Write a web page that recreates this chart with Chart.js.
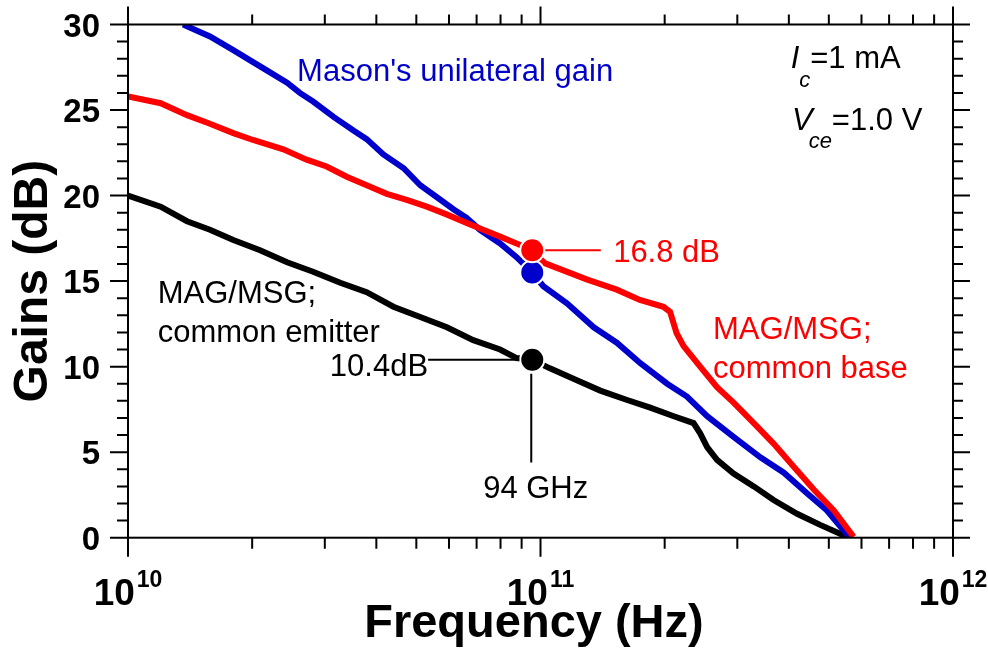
<!DOCTYPE html>
<html>
<head>
<meta charset="utf-8">
<title>Gains vs frequency</title>
<script src="https://cdn.jsdelivr.net/npm/chart.js@4"></script>
<style>
  html, body { margin: 0; padding: 0; background: #fff; }
  canvas { display: block; }
</style>
</head>
<body>
<canvas id="gainChart" width="988" height="655"></canvas>
<script>
// values: frequency in GHz, gain in dB
const masonFreq = [13.6, 15.8, 18.0, 20.1, 22.1, 24.3, 26.1, 28.1, 31.5, 35.2, 37.9, 41.6, 46.6, 51.1, 56.1, 61.5,
  66.2, 71.3, 79.8, 87.5, 95.5, 101.6, 115.9, 134.6, 153.1, 174.6, 202.8, 226.5, 253.5, 293.8, 341.2, 389.0,
  442.6, 494.3, 533.3, 563.6];
const masonGain = [30.0, 29.3, 28.5, 27.8, 27.2, 26.6, 26.0, 25.5, 24.6, 23.8, 23.3, 22.4, 21.6, 20.6, 19.9, 19.2,
  18.7, 18.0, 17.2, 16.4, 15.5, 14.7, 13.7, 12.3, 11.4, 10.2, 9.0, 8.25, 7.1, 5.9, 4.7, 3.8,
  2.6, 1.6, 0.65, 0];

const cbFreq = [10.0, 12.0, 13.9, 15.8, 18.0, 20.1, 23.8, 27.1, 30.3, 33.9, 37.9, 42.4, 47.4, 53.0, 59.2, 66.2,
  72.6, 79.8, 87.5, 95.5, 102.3, 129.4, 153.1, 174.2, 198.6, 206.1, 213.8, 222.3, 243.8, 267.9, 293.8, 328.9,
  367.3, 411.1, 460.3, 514.0, 574.1];
const cbGain = [25.8, 25.4, 24.7, 24.2, 23.65, 23.25, 22.7, 22.1, 21.7, 21.1, 20.6, 20.1, 19.75, 19.35, 18.9, 18.4,
  18.0, 17.6, 17.2, 16.8, 16.05, 15.1, 14.5, 13.9, 13.5, 13.2, 11.95, 11.2, 10.0, 8.8, 7.9, 6.7,
  5.5, 4.15, 2.8, 1.6, 0.05];

const ceFreq = [10.0, 12.0, 13.9, 15.8, 18.0, 20.9, 24.3, 28.1, 32.7, 37.9, 44.0, 51.1, 59.3, 68.7, 79.8, 87.5,
  95.5, 105.4, 122.5, 139.6, 162.2, 184.5, 210.4, 235.0, 243.8, 253.5, 267.9, 293.8, 328.9, 367.3, 418.8, 476.4,
  553.4];
const ceGain = [20.0, 19.35, 18.5, 18.0, 17.4, 16.8, 16.1, 15.55, 14.9, 14.35, 13.5, 12.9, 12.3, 11.55, 11.0, 10.5,
  10.4, 9.9, 9.2, 8.6, 8.05, 7.6, 7.1, 6.7, 6.1, 5.3, 4.55, 3.75, 3.0, 2.2, 1.4, 0.75,
  0.05];

// the marked points at 94 GHz
const markFreq = 95.5;
const markMason = 15.5;
const markCb = 16.8;
const markCe = 10.4;

const yMin = 0, yMax = 30, yMajor = 5;
const xDecades = [10, 11, 12];

const FONT = '"Liberation Sans", Arial, Helvetica, sans-serif';
const BLUE = '#0000cc';
const RED = '#ff0000';

function toPoints(freqs, gains) {
  return freqs.map((f, i) => ({ x: f * 1e9, y: gains[i] }));
}

function lineSet(freqs, gains, color, order) {
  return {
    data: toPoints(freqs, gains),
    borderColor: color,
    borderWidth: 6,
    pointRadius: 0,
    tension: 0,
    fill: false,
    order: order
  };
}

function markSet(gain, color, order) {
  return {
    data: [{ x: markFreq * 1e9, y: gain }],
    showLine: false,
    pointRadius: 12,
    pointBackgroundColor: color,
    pointBorderColor: '#ffffff',
    pointBorderWidth: 2,
    order: order
  };
}

// text helper: pieces drawn one after another, each {t, font, dy}
function drawPieces(ctx, x, y, pieces, color) {
  ctx.fillStyle = color;
  let cx = x;
  pieces.forEach(p => {
    ctx.font = p.font;
    ctx.fillText(p.t, cx + (p.dx || 0), y + (p.dy || 0));
    cx += (p.dx || 0) + ctx.measureText(p.t).width;
  });
}

// frame, ticks on all four sides, decade labels and the annotations
const framePlugin = {
  id: 'framePlugin',
  afterDraw(chart) {
    const { ctx, chartArea: a, scales: { x, y } } = chart;
    ctx.save();
    ctx.strokeStyle = '#000';
    ctx.lineWidth = 2;
    ctx.strokeRect(a.left, a.top, a.right - a.left, a.bottom - a.top);

    ctx.beginPath();
    for (let v = yMin; v <= yMax; v++) {
      const py = y.getPixelForValue(v);
      const len = v % yMajor === 0 ? 18 : 11;
      ctx.moveTo(a.left - len, py); ctx.lineTo(a.left, py);
      ctx.moveTo(a.right, py); ctx.lineTo(a.right + len - 1, py);
    }
    xDecades.forEach((d, k) => {
      const last = k === xDecades.length - 1;
      for (let m = 1; m <= (last ? 1 : 9); m++) {
        const px = x.getPixelForValue(m * Math.pow(10, d));
        const len = m === 1 ? 19 : 11;
        ctx.moveTo(px, a.bottom); ctx.lineTo(px, a.bottom + len);
        ctx.moveTo(px, a.top - len + 1); ctx.lineTo(px, a.top);
      }
    });
    ctx.stroke();

    // 10^n labels
    ctx.fillStyle = '#000';
    ctx.textAlign = 'left';
    ctx.textBaseline = 'alphabetic';
    xDecades.forEach(d => {
      const px = x.getPixelForValue(Math.pow(10, d));
      ctx.font = 'bold 37px ' + FONT;
      const wb = ctx.measureText('10').width;
      ctx.font = 'bold 23px ' + FONT;
      const ws = ctx.measureText(String(d)).width;
      const start = px - (wb + 2 + ws) / 2;
      ctx.font = 'bold 37px ' + FONT;
      ctx.fillText('10', start, a.bottom + 67);
      ctx.font = 'bold 23px ' + FONT;
      ctx.fillText(String(d), start + wb + 2, a.bottom + 49);
    });

    const X = f => x.getPixelForValue(f * 1e9);
    const Y = g => y.getPixelForValue(g);
    const norm = '31px ' + FONT;
    const ital = 'italic 31px ' + FONT;
    const sub = 'italic 22px ' + FONT;

    // leader lines
    const mx = X(markFreq);
    ctx.lineWidth = 2;
    ctx.strokeStyle = RED;
    ctx.beginPath();
    ctx.moveTo(mx + 13, Y(markCb)); ctx.lineTo(X(140), Y(markCb));
    ctx.stroke();
    ctx.strokeStyle = '#000';
    ctx.beginPath();
    ctx.moveTo(X(53.4), Y(markCe)); ctx.lineTo(mx - 13, Y(markCe));
    ctx.moveTo(mx - 1, Y(markCe) + 14); ctx.lineTo(mx - 1, Y(4.4));
    ctx.stroke();

    ctx.textAlign = 'left';
    ctx.font = norm;
    ctx.fillStyle = BLUE;
    ctx.fillText("Mason's unilateral gain", X(25.7), Y(26.67));

    ctx.fillStyle = '#000';
    ctx.fillText('MAG/MSG;', X(11.8), Y(13.71));
    ctx.fillText('common emitter', X(11.8), Y(11.43));
    ctx.fillText('94 GHz', X(72.6), Y(2.32));
    ctx.textAlign = 'right';
    ctx.fillText('10.4dB', X(53.4), Y(9.45));
    ctx.textAlign = 'left';

    ctx.fillStyle = RED;
    ctx.fillText('16.8 dB', X(150), Y(16.13));
    ctx.fillText('MAG/MSG;', X(262), Y(11.6));
    ctx.fillText('common base', X(262), Y(9.33));

    drawPieces(ctx, X(404), Y(27.44), [
      { t: 'I', font: ital },
      { t: 'c', font: sub, dy: 19 },
      { t: '=1 mA', font: norm }
    ], '#000');
    drawPieces(ctx, X(407), Y(23.83), [
      { t: 'V', font: ital },
      { t: 'ce', font: sub, dy: 18, dx: -4 },
      { t: '=1.0 V', font: norm }
    ], '#000');

    ctx.restore();
  }
};

const ctx = document.getElementById('gainChart').getContext('2d');
new Chart(ctx, {
  type: 'line',
  data: {
    datasets: [
      lineSet(ceFreq, ceGain, '#000000', 3),
      lineSet(masonFreq, masonGain, BLUE, 2),
      lineSet(cbFreq, cbGain, RED, 1),
      markSet(markCe, '#000000', -1),
      markSet(markMason, BLUE, -2),
      markSet(markCb, RED, -3)
    ]
  },
  options: {
    responsive: false,
    animation: false,
    devicePixelRatio: 1,
    layout: { padding: { top: 24.5, right: 35, left: 0, bottom: 0 } },
    plugins: { legend: { display: false }, tooltip: { enabled: false } },
    scales: {
      x: {
        type: 'logarithmic',
        min: 1e10,
        max: 1e12,
        grid: { display: false, drawTicks: false },
        border: { display: false },
        ticks: { display: false },
        title: {
          display: true,
          // trailing space nudges the centred title a little to the left, as in the original
          text: 'Frequency (Hz) ',
          color: '#000',
          font: { family: FONT, size: 47, weight: 'bold' },
          padding: { top: 0, bottom: 3 }
        },
        afterFit: s => { s.height = 117.3; s.paddingLeft = 0; s.paddingRight = 0; }
      },
      y: {
        min: yMin,
        max: yMax,
        grid: { display: false, drawTicks: false },
        border: { display: false },
        ticks: {
          stepSize: yMajor,
          color: '#000',
          padding: 28,
          labelOffset: 3,
          font: { family: FONT, size: 33, weight: 'bold' }
        },
        title: {
          display: true,
          text: 'Gains (dB)',
          color: '#000',
          font: { family: FONT, size: 48, weight: 'bold' },
          padding: { top: 4.5, bottom: 0 }
        },
        // tick label overhang is already covered by the padding and the x axis box
        afterFit: s => { s.width = 128; s.paddingTop = 0; s.paddingBottom = 0; }
      }
    }
  },
  plugins: [framePlugin]
});
</script>
</body>
</html>
